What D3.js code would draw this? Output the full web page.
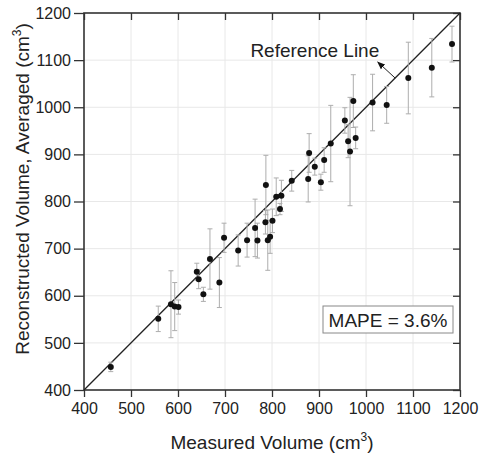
<!DOCTYPE html>
<html>
<head>
<meta charset="utf-8">
<script src="https://cdn.jsdelivr.net/npm/d3@7"></script>
<style>
    body { margin: 0; background: #fff; }
    text { font-family: "Liberation Sans", Arial, sans-serif; fill: #222; }
</style>
</head>
<body>
<div id="chart"></div>
<script>
// measured volume (cm3)
let measured = [457, 558, 585, 593, 601, 640, 644, 654, 668, 688,
    698, 728, 747, 764, 769, 787, 786, 791, 796, 801,
    809, 817, 820, 842, 877, 879, 891, 904, 911, 925,
    955, 962, 966, 973, 978, 1014, 1044, 1090, 1140, 1183];
// reconstructed volume, averaged (cm3)
let reconstructed = [449, 551, 582, 577, 576, 651, 635, 603, 678, 628,
    723, 696, 718, 744, 717, 835, 756, 718, 725, 759,
    810, 784, 812, 844, 848, 903, 874, 841, 888, 923,
    972, 928, 906, 1013, 935, 1010, 1005, 1062, 1084, 1134];
// error bar half-length
let spread = [10, 27, 71, 51, 15, 18, 20, 15, 64, 53,
    31, 33, 36, 61, 37, 63, 25, 64, 35, 25,
    40, 12, 33, 22, 49, 41, 18, 17, 26, 81,
    27, 35, 115, 56, 23, 60, 39, 76, 62, 38];

let ticks = [400, 500, 600, 700, 800, 900, 1000, 1100, 1200];
let refLine = [400, 1200];
let refLabel = "Reference Line";
let mapeLabel = "MAPE = 3.6%";

let data = measured.map((d, i) => ({x: d, y: reconstructed[i], e: spread[i]}));

let margin = {top: 13, right: 20, bottom: 67, left: 84};
let width = 376, height = 377;

let svg = d3.select("#chart").append("svg")
    .attr("width", 480)
    .attr("height", 457)
    .append("g")
    .attr("transform", "translate(" + margin.left + "," + margin.top + ")");

let x = d3.scaleLinear().domain([400, 1200]).range([0, width]);
let y = d3.scaleLinear().domain([400, 1200]).range([height, 0]);

// grid
svg.append("g")
    .selectAll("line")
    .data(ticks.slice(1, -1))
    .enter().append("line")
    .attr("x1", d => x(d)).attr("x2", d => x(d))
    .attr("y1", 0).attr("y2", height)
    .style("stroke", "#e8e8e8");
svg.append("g")
    .selectAll("line")
    .data(ticks.slice(1, -1))
    .enter().append("line")
    .attr("y1", d => y(d)).attr("y2", d => y(d))
    .attr("x1", 0).attr("x2", width)
    .style("stroke", "#e8e8e8");

// axes
let xAxis = svg.append("g")
    .attr("transform", `translate(0,${height})`)
    .call(d3.axisBottom(x).tickValues(ticks).tickSize(7).tickPadding(6).tickFormat(d3.format("d")));
let yAxis = svg.append("g")
    .call(d3.axisLeft(y).tickValues(ticks).tickSize(10).tickPadding(3).tickFormat(d3.format("d")));
let xTop = svg.append("g")
    .call(d3.axisBottom(x).tickValues(ticks).tickSize(7).tickFormat(""));
let yRight = svg.append("g")
    .attr("transform", `translate(${width},0)`)
    .call(d3.axisLeft(y).tickValues(ticks).tickSize(7).tickFormat(""));

[xAxis, yAxis, xTop, yRight].forEach(a => {
    a.select(".domain").remove();
    a.selectAll(".tick line").style("stroke", "#333").style("stroke-width", 1.3);
    a.selectAll(".tick text").style("font-size", "16px").style("fill", "#222")
        .style("font-family", "'Liberation Sans', Arial, sans-serif");
});

svg.append("rect")
    .attr("width", width)
    .attr("height", height)
    .style("fill", "none")
    .style("stroke", "#333")
    .style("stroke-width", 1.6);

// reference line
svg.append("line")
    .attr("x1", x(refLine[0])).attr("y1", y(refLine[0]))
    .attr("x2", x(refLine[1])).attr("y2", y(refLine[1]))
    .style("stroke", "#222")
    .style("stroke-width", 1.3);

// error bars
let bars = svg.append("g").selectAll("g")
    .data(data)
    .enter().append("g")
    .style("stroke", "#adadad")
    .style("stroke-width", 1);
bars.append("line")
    .attr("x1", d => x(d.x)).attr("x2", d => x(d.x))
    .attr("y1", d => y(d.y - d.e)).attr("y2", d => y(d.y + d.e));
bars.append("line")
    .attr("x1", d => x(d.x) - 2.5).attr("x2", d => x(d.x) + 2.5)
    .attr("y1", d => y(d.y - d.e)).attr("y2", d => y(d.y - d.e));
bars.append("line")
    .attr("x1", d => x(d.x) - 2.5).attr("x2", d => x(d.x) + 2.5)
    .attr("y1", d => y(d.y + d.e)).attr("y2", d => y(d.y + d.e));

// points
svg.append("g").selectAll("circle")
    .data(data)
    .enter().append("circle")
    .attr("cx", d => x(d.x))
    .attr("cy", d => y(d.y))
    .attr("r", 3)
    .style("fill", "#111");

// annotation arrow
svg.append("defs").append("marker")
    .attr("id", "arrow")
    .attr("viewBox", "0 0 10 10")
    .attr("refX", 9).attr("refY", 5)
    .attr("markerWidth", 8).attr("markerHeight", 8)
    .attr("orient", "auto")
    .append("path")
    .attr("d", "M0,1 L10,5 L0,9 Z")
    .style("fill", "#111");

svg.append("line")
    .attr("x1", x(1062)).attr("y1", y(1062))
    .attr("x2", x(1025)).attr("y2", y(1096))
    .style("stroke", "#222")
    .style("stroke-width", 1)
    .attr("marker-end", "url(#arrow)");

svg.append("text")
    .attr("x", x(754))
    .attr("y", y(1107))
    .style("font-size", "19px")
    .text(refLabel);

// MAPE box
svg.append("rect")
    .attr("x", 239).attr("y", 293)
    .attr("width", 130).attr("height", 27)
    .style("fill", "#fff")
    .style("stroke", "#888")
    .style("stroke-width", 1);
svg.append("text")
    .attr("x", 304).attr("y", 314)
    .attr("text-anchor", "middle")
    .style("font-size", "19px")
    .text(mapeLabel);

// axis titles
let xt = svg.append("text")
    .attr("x", width / 2)
    .attr("y", 436)
    .attr("text-anchor", "middle")
    .style("font-size", "19px")
    .text("Measured Volume (cm");
xt.append("tspan").attr("dy", -8).style("font-size", "12px").text("3");
xt.append("tspan").attr("dy", 8).text(")");

let yt = svg.append("text")
    .attr("transform", "translate(-55," + (189 - margin.top) + ") rotate(-90)")
    .attr("text-anchor", "middle")
    .style("font-size", "19px")
    .text("Reconstructed Volume, Averaged (cm");
yt.append("tspan").attr("dy", -8).style("font-size", "12px").text("3");
yt.append("tspan").attr("dy", 8).text(")");
</script>
</body>
</html>
